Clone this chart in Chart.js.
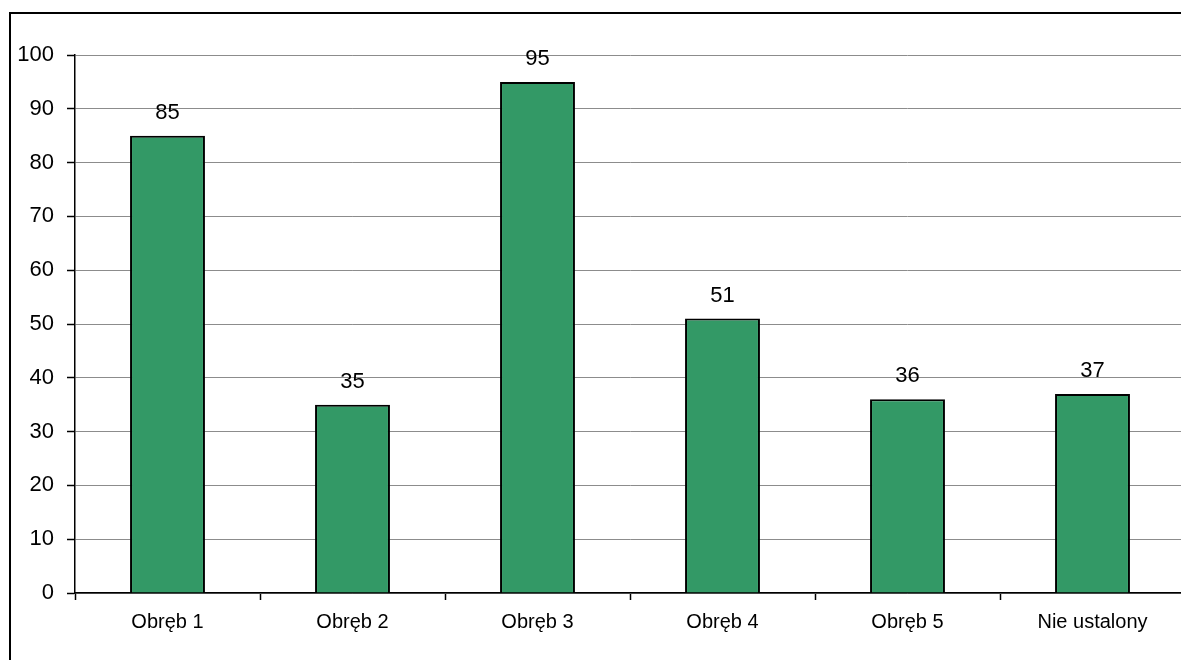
<!DOCTYPE html>
<html>
<head>
<meta charset="utf-8">
<script src="https://cdn.jsdelivr.net/npm/chart.js@4.4.0/dist/chart.umd.min.js"></script>
<style>
  html, body { margin: 0; padding: 0; background: #fff; overflow: hidden; }
  #wrap { position: relative; width: 1190px; height: 672px; }
</style>
</head>
<body>
<div id="wrap"><canvas id="barChart"></canvas></div>
<script>
const categories = ['Obręb 1', 'Obręb 2', 'Obręb 3', 'Obręb 4', 'Obręb 5', 'Nie ustalony'];
const values = [85, 35, 95, 51, 36, 37];
const yTicks = [0, 10, 20, 30, 40, 50, 60, 70, 80, 90, 100];

const FONT = 'Liberation Sans, Arial, sans-serif';

// outer frame of the chart object
const framePlugin = {
  id: 'frame',
  beforeDraw(chart) {
    const ctx = chart.ctx;
    ctx.save();
    ctx.fillStyle = '#fff';
    ctx.fillRect(0, 0, chart.width, chart.height);
    ctx.strokeStyle = '#000';
    ctx.lineWidth = 2;
    ctx.strokeRect(10, 13, chart.width + 20, chart.height + 20);
    ctx.restore();
  },
};

// value labels above bars
const valueLabels = {
  id: 'valueLabels',
  afterDatasetsDraw(chart) {
    const ctx = chart.ctx;
    const meta = chart.getDatasetMeta(0);
    ctx.save();
    ctx.font = '22px ' + FONT;
    ctx.fillStyle = '#000';
    ctx.textAlign = 'center';
    ctx.textBaseline = 'alphabetic';
    meta.data.forEach((bar, i) => {
      ctx.fillText(String(values[i]), bar.x, bar.y - 17);
    });
    ctx.restore();
  },
};

const ctx = document.getElementById('barChart').getContext('2d');
new Chart(ctx, {
  type: 'bar',
  data: {
    labels: categories,
    datasets: [
      {
        data: values,
        backgroundColor: '#339966',
        borderColor: '#000',
        borderWidth: 2,
        categoryPercentage: 1,
        barPercentage: 0.405,
      },
    ],
  },
  options: {
    responsive: true,
    maintainAspectRatio: false,
    animation: false,
    layout: { padding: { left: 0, top: 55, right: 5, bottom: 0 } },
    plugins: {
      legend: { display: false },
      tooltip: { enabled: false },
    },
    scales: {
      x: {
        offset: true,
        grid: {
          offset: true,
          drawOnChartArea: false,
          color: '#000',
          tickColor: '#000',
          tickLength: 7,
          tickWidth: 1.5,
        },
        border: { display: true, color: '#000', width: 1.5 },
        ticks: {
          color: '#000',
          font: { family: FONT, size: 20 },
          padding: 10,
          maxRotation: 0,
        },
        afterFit(scale) {
          scale.height = 672 - 593;
        },
      },
      y: {
        min: 0,
        max: 100,
        afterBuildTicks(scale) {
          scale.ticks = yTicks.map((v) => ({ value: v }));
        },
        grid: {
          color: '#8c8c8c',
          lineWidth: 1,
          borderDash: [1, 1],
          tickColor: '#000',
          tickLength: 8,
          tickWidth: 1.5,
          tickBorderDash: [],
        },
        border: { display: true, color: '#000', width: 1.5 },
        ticks: {
          color: '#000',
          font: { family: FONT, size: 22 },
          padding: 13,
        },
        afterFit(scale) {
          scale.width = 75;
          scale.paddingTop = 0;
        },
      },
    },
  },
  plugins: [framePlugin, valueLabels],
});
</script>
</body>
</html>
